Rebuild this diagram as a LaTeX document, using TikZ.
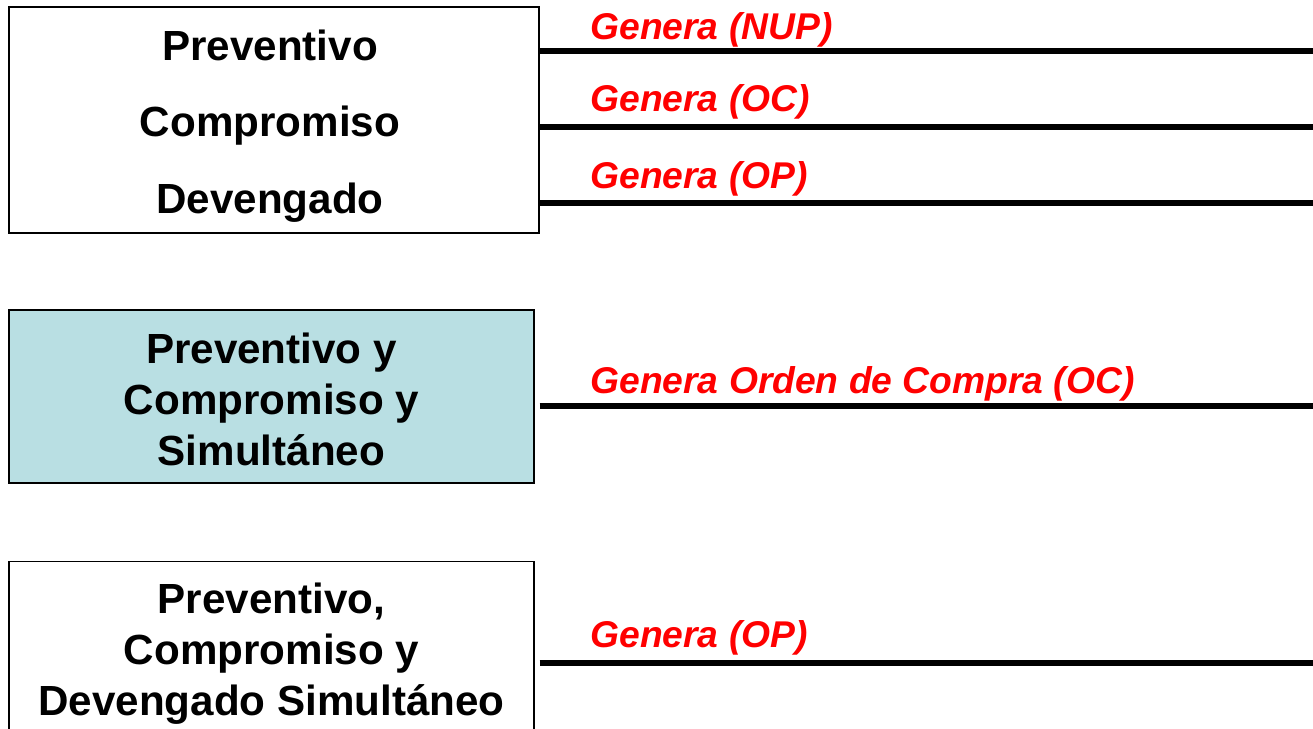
\documentclass[tikz,border=0pt]{standalone}
\usepackage{fontspec}
\setmainfont{Liberation Sans}
\usetikzlibrary{positioning}

\definecolor{boxblue}{RGB}{185,223,227}
\definecolor{labelred}{RGB}{255,0,0}

\tikzset{
	etapa/.style={draw=black, line width=0.8pt, minimum width=10.5cm, inner sep=0pt},
	etapatexto/.style={align=center, font=\fontsize{24}{29}\selectfont\bfseries, inner sep=0pt},
	genera/.style={anchor=base west, text=labelred, font=\fontsize{21.2}{25}\selectfont\bfseries\itshape, inner sep=0pt},
	salida/.style={line width=2.9pt}
}

\begin{document}
\begin{tikzpicture}[x=0.02cm, y=-0.02cm]
	\useasboundingbox (0, 0) rectangle (1313, 729);
	\clip (0, 0) rectangle (1313, 729);
	% cajas
	\node[etapa, minimum width=10.6cm, minimum height=4.52cm] (simple) at (274, 120) {};
	\node[etapatexto, font=\fontsize{24}{43.7}\selectfont\bfseries] (simpletext) at (270, 126) {Preventivo\\Compromiso\\Devengado};
	\node[etapa, fill=boxblue, minimum height=3.46cm] (doble) at (271.5, 396.5) {};
	\node[etapatexto] (dobletext) at (271.5, 399) {Preventivo y\\Compromiso y\\Simultáneo};
	\node[etapa, minimum height=3.8cm, anchor=north] (triple) at (271.5, 561) {};
	\node[etapatexto] (tripletext) at (271.5, 654) {Preventivo,\\Compromiso y\\Devengado Simultáneo};
	% salidas
	\coordinate (nupfin) at (1313, 51);
	\coordinate (ocfin) at (1313, 127);
	\coordinate (opfin) at (1313, 203);
	\coordinate (ordenfin) at (1313, 406);
	\coordinate (pagofin) at (1313, 663);
	\draw[salida] (simple.east |- nupfin) -- (nupfin);
	\draw[salida] (simple.east |- ocfin) -- (ocfin);
	\draw[salida] (simple.east |- opfin) -- (opfin);
	\draw[salida] (simple.east |- ordenfin) -- (ordenfin);
	\draw[salida] (simple.east |- pagofin) -- (pagofin);
	% textos
	\node[genera] (nup) at (590, 40) {Genera (NUP)};
	\node[genera] (oc) at (590, 112) {Genera (OC)};
	\node[genera] (op) at (590, 189) {Genera (OP)};
	\node[genera] (orden) at (590, 394) {Genera Orden de Compra (OC)};
	\node[genera] (pago) at (590, 648) {Genera (OP)};
\end{tikzpicture}
\end{document}
